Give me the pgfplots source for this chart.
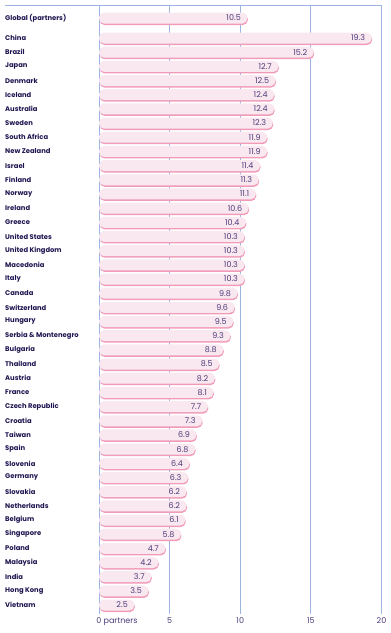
\documentclass[border=0pt]{standalone}
\usepackage{pgfplots}
\pgfplotsset{compat=1.18}
\usepackage{pgfplotstable}
\usepackage{fontspec}
\setmainfont{Poppins}
\definecolor{barfill}{HTML}{F9E8EF}
\definecolor{barshadow}{HTML}{F29BB9}
\definecolor{gridc}{HTML}{9DB5E0}
\definecolor{labc}{HTML}{1E1650}
\definecolor{valc}{HTML}{4B3B7A}
\pgfplotstableread{
y x
-0.41 10.5
1 19.3
2 15.2
3 12.7
4 12.5
5 12.4
6 12.4
7 12.3
8 11.9
9 11.9
10 11.4
11 11.3
12 11.1
13 10.6
14 10.4
15 10.3
16 10.3
17 10.3
18 10.3
19 9.8
20 9.6
21 9.5
22 9.3
23 8.8
24 8.5
25 8.2
26 8.1
27 7.7
28 7.3
29 6.9
30 6.8
31 6.4
32 6.3
33 6.2
34 6.2
35 6.1
36 5.8
37 4.7
38 4.2
39 3.7
40 3.5
41 2.5
}\datatable
\begin{document}
\begin{tikzpicture}
\useasboundingbox (0,0) rectangle (391pt,633pt);
\begin{axis}[
  at={(99pt,19pt)}, anchor=south west,
  scale only axis, width=282.5pt, height=609pt,
  xmin=0, xmax=20, ymin=-1.328, ymax=41.63,
  y dir=reverse,
  axis line style={draw=none},
  tick style={draw=none},
  clip=false,
  xtick={0,5,10,15,20},
  xticklabels={0\rlap{ partners},5,10,15,20},
  ytick={-0.41,1,2,3,4,5,6,7,8,9,10,11,12,13,14,15,16,17,18,19,20,21,22,23,24,25,26,27,28,29,30,31,32,33,34,35,36,37,38,39,40,41},
  yticklabels={Global (partners),China,Brazil,Japan,Denmark,Iceland,Australia,Sweden,South Africa,New Zealand,Israel,Finland,Norway,Ireland,Greece,United States,United Kingdom,Macedonia,Italy,Canada,Switzerland,Hungary,{Serbia \& Montenegro},Bulgaria,Thailand,Austria,France,Czech Republic,Croatia,Taiwan,Spain,Slovenia,Germany,Slovakia,Netherlands,Belgium,Singapore,Poland,Malaysia,India,Hong Kong,Vietnam},
  yticklabel style={anchor=west, xshift=-94pt, inner xsep=0pt, font=\fontsize{6.8}{7}\selectfont\bfseries, text=labc},
  xticklabel style={font=\fontsize{8}{9}\selectfont, text=valc},
  /pgf/number format/assume math mode=true,
  major tick length=0pt,
]
% grid lines
\foreach \g in {0,5,10,15} {
  \edef\temp{\noexpand\draw[gridc, line width=0.8pt] (axis cs:\g,-1.328) -- (axis cs:\g,41.63);}
  \temp
}
\draw[gridc, line width=0.8pt] (axis cs:20,41.63) -- (axis cs:20,-1.328) -- (axis cs:-6.67,-1.328);
\addplot[xbar, bar width=11pt, bar shift=0pt, fill=barshadow, draw=none, rounded corners=5pt, yshift=-1.5pt, xshift=0.5pt] table[x=x,y=y] {\datatable};
\addplot[xbar, bar width=11pt, bar shift=0pt, fill=barfill, draw=none, rounded corners=5pt,
  nodes near coords, nodes near coords align={anchor=east},
  every node near coord/.append style={xshift=-3pt, font=\fontsize{8}{9}\selectfont, text=valc,
    /pgf/number format/.cd, fixed, fixed zerofill, precision=1}]
  table[x=x,y=y] {\datatable};
\end{axis}
\end{tikzpicture}
\end{document}
